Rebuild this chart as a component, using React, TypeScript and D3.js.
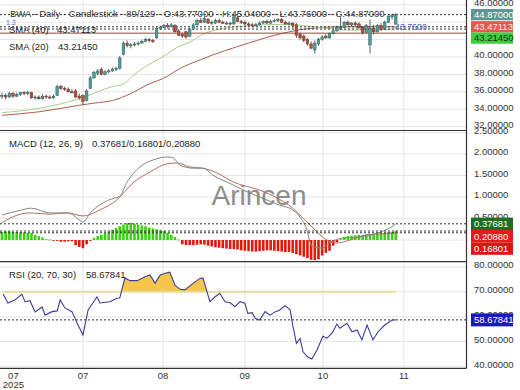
import React from "react";
import * as d3 from "d3";

// ---------- DATA ----------
const opens = [35.5,35.6,35.4,35.8,35.5,35.7,35.9,35.8,35.9,35.3,35.4,35.2,35.5,35.4,35.3,35.6,36.6,36.4,36.3,36.0,36.1,35.5,35.6,35.0,36.4,37.6,38.1,38.6,38.0,38.3,38.4,38.6,38.7,40.3,41.6,41.3,41.4,41.5,41.6,41.8,42.0,41.9,42.2,43.3,43.4,43.6,43.5,43.6,43.0,42.6,42.9,42.4,43.2,43.7,44.2,44.0,44.3,43.9,43.9,44.2,44.0,43.9,43.9,43.8,44.5,44.1,44.0,43.8,43.7,43.6,43.7,43.9,44.1,43.9,44.1,44.2,44.3,44.0,43.8,43.9,43.7,42.6,42.4,42.0,41.5,40.8,41.5,42.0,42.4,42.2,42.7,43.0,43.3,43.4,44.0,43.7,43.9,43.8,43.4,42.8,41.4,43.3,42.9,43.6,43.2,44.0,44.6,43.77];
const highs = [35.9,35.8,36.0,36.0,35.9,36.0,36.1,36.1,36.0,35.6,35.6,35.7,35.7,35.6,35.7,36.8,36.8,36.6,36.5,36.3,36.3,35.8,35.7,36.3,37.8,38.4,38.6,38.8,38.5,38.6,38.8,38.9,40.1,41.8,41.9,41.6,41.7,41.8,42.0,42.2,42.2,42.1,43.4,43.6,43.8,43.9,43.9,43.8,43.2,42.8,43.0,43.4,43.9,44.4,44.5,44.6,44.5,44.2,44.4,44.4,44.2,44.1,44.0,44.9,44.7,44.3,44.2,44.0,43.9,43.9,44.1,44.2,44.3,44.3,44.4,44.5,44.5,44.2,44.1,44.0,43.9,42.8,42.6,42.2,41.8,41.9,42.2,42.5,42.6,42.8,43.2,43.6,44.6,44.1,44.2,44.0,44.1,44.0,43.6,43.8,44.3,43.7,43.8,43.9,44.2,44.9,45.0,45.04];
const lows = [35.2,35.1,35.3,35.3,35.4,35.5,35.6,35.6,35.2,35.1,35.1,35.1,35.2,35.2,35.2,35.5,36.2,36.1,35.9,35.8,35.3,35.1,34.5,34.9,36.3,37.5,37.9,37.9,37.9,38.1,38.3,38.4,38.6,40.2,41.1,41.0,41.2,41.3,41.5,41.7,41.7,41.6,42.1,43.1,43.3,43.3,43.4,42.8,42.4,42.2,42.1,42.3,43.1,43.6,43.9,43.9,43.8,43.7,43.8,43.9,43.8,43.7,43.6,43.7,44.0,43.8,43.6,43.5,43.4,43.5,43.6,43.8,43.8,43.8,44.0,44.0,43.9,43.7,43.6,43.4,42.2,42.0,41.7,41.3,41.0,40.4,41.3,41.9,42.1,42.1,42.6,42.9,43.1,43.3,43.6,43.5,43.5,43.2,42.6,42.7,40.4,42.6,42.8,43.0,43.1,43.9,44.3,43.76];
const closes = [35.6,35.4,35.8,35.5,35.7,35.9,35.8,35.9,35.3,35.4,35.2,35.5,35.4,35.3,35.5,36.6,36.4,36.3,36.0,35.9,35.4,35.3,34.9,36.1,37.6,38.2,38.4,38.0,38.3,38.4,38.6,38.7,39.9,41.6,41.3,41.4,41.5,41.6,41.8,42.0,41.9,41.8,43.3,43.4,43.6,43.5,43.7,42.9,42.5,42.4,42.3,43.2,43.7,44.2,44.0,44.4,43.9,44.0,44.2,44.0,43.9,43.9,43.8,44.6,44.1,44.0,43.8,43.7,43.6,43.7,43.9,44.1,43.9,44.1,44.2,44.3,44.0,43.8,43.9,43.6,42.5,42.2,41.9,41.5,41.0,41.6,42.0,42.3,42.2,42.7,43.0,43.4,43.4,44.0,43.7,43.9,43.7,43.4,42.8,43.6,43.3,42.9,43.6,43.2,44.0,44.7,44.8,44.87];

// SMA lines: [candle index, value]
const sma20Pts: [number, number][] = [[0,33.6],[10,34.1],[21,35.2],[30,36.6],[33,36.9],[36,38.0],[39,38.9],[44,40.1],[48,41.2],[51,41.7],[54,42.5],[58,43.1],[67,43.6],[76,43.75],[81,43.65],[86,43.4],[95,43.1],[100,43.1],[107,43.2145]];
const sma40Pts: [number, number][] = [[0,33.3],[10,33.7],[21,34.45],[25,34.7],[30,35.0],[35,35.8],[39,36.7],[45,37.8],[48,38.6],[54,39.7],[67,41.6],[76,42.7],[84,43.3],[92,43.47],[107,43.47113]];

// MACD
const macdPts: [number, number][] = [[0,0.58],[5,0.69],[8,0.74],[13,0.63],[18,0.63],[21,0.47],[22,0.42],[24,0.63],[29,0.93],[32,1.02],[34,1.35],[37.5,1.70],[41,1.86],[45,1.93],[46.5,1.91],[48.4,1.74],[52,1.67],[54.6,1.67],[57.3,1.51],[62.8,1.28],[66.6,1.12],[70,1.0],[75.5,0.81],[79,0.70],[81,0.53],[83,0.19],[83.7,-0.05],[84.5,-0.16],[87,-0.19],[89,-0.07],[92.7,0.05],[97.3,0.07],[102,0.16],[106.3,0.33],[107,0.37681]];
const signalPts: [number, number][] = [[0,0.40],[2.2,0.51],[7.6,0.63],[13,0.60],[17.7,0.63],[22,0.56],[26.6,0.70],[31.2,0.93],[35.6,1.33],[40.2,1.58],[44.8,1.77],[47.6,1.79],[51,1.70],[54.6,1.67],[58.4,1.56],[62.8,1.35],[70,1.16],[74.7,0.98],[79,0.74],[81.8,0.51],[84.5,0.28],[88.3,0.0],[91,-0.07],[94.6,0.0],[99.2,0.12],[106.3,0.16],[107,0.16801]];
const histVals = [0.19,0.20,0.20,0.19,0.19,0.18,0.18,0.17,0.16,0.12,0.09,0.06,0.02,0.01,-0.01,-0.02,-0.04,-0.04,-0.03,-0.03,-0.12,-0.16,-0.19,-0.10,-0.02,0.05,0.09,0.12,0.16,0.20,0.24,0.28,0.32,0.36,0.39,0.40,0.38,0.36,0.34,0.32,0.29,0.27,0.25,0.23,0.21,0.17,0.12,0.07,0.01,-0.10,-0.12,-0.12,-0.12,-0.11,-0.10,-0.11,-0.13,-0.15,-0.17,-0.18,-0.19,-0.20,-0.21,-0.21,-0.22,-0.24,-0.25,-0.26,-0.27,-0.27,-0.26,-0.25,-0.24,-0.24,-0.25,-0.26,-0.27,-0.28,-0.28,-0.30,-0.33,-0.36,-0.39,-0.42,-0.46,-0.47,-0.45,-0.36,-0.30,-0.25,-0.13,-0.05,0.02,0.07,0.09,0.10,0.11,0.12,0.12,0.13,0.14,0.14,0.15,0.16,0.17,0.18,0.19,0.2088];

// RSI
const rsiPts: [number, number][] = [[0.3,69.1],[1.6,65.5],[3.5,66.7],[5.4,69.0],[6.25,66.0],[7.6,66.4],[9,61.9],[10.9,63.9],[11.7,60.6],[13.6,62.0],[15,62.3],[15.8,66.7],[17.1,63.5],[19,62.0],[20.4,57.4],[22,52.6],[23.4,62.7],[24.7,65.5],[25.8,68.0],[26.6,65.5],[29.3,66.0],[31.25,67.4],[32,67.5],[33.4,75.6],[34.8,74.5],[36.7,74.5],[38.9,76.1],[40.2,76.8],[41.6,73.5],[43,76.8],[44.3,77.5],[45.6,77.9],[47,72.7],[48.4,71.0],[49.7,70.8],[51.9,73.4],[53.8,75.4],[54.6,75.6],[56.5,66.0],[57.9,68.0],[59.2,69.4],[60.6,66.0],[62,65.6],[63.3,64.0],[64.7,66.0],[66,65.4],[66.8,61.3],[68,61.6],[68.8,59.3],[70,58.6],[71.5,62.0],[72.8,60.6],[74.2,61.9],[75.5,62.7],[76.9,64.4],[78.3,62.7],[79,56.6],[80,49.2],[81,51.2],[81.8,45.8],[83,43.8],[84.2,42.9],[85.6,46.5],[87.2,52.1],[88.3,51.3],[89.7,53.3],[91,57.0],[91.8,55.3],[93.75,57.3],[95.1,53.9],[96.5,54.6],[97.8,50.6],[99.2,56.6],[100.8,50.6],[102.2,53.9],[104,56.6],[106,58.6],[107,58.67841]];
const rsiUpper = 70;

// levels / labels
const priceTicks = [46, 44, 42, 40, 38, 36, 34, 32];
const priceLabelTicks = [46, 40, 38, 36, 34, 32];
const macdTicks = [2.5, 2, 1.5, 1, 0.5, 0];
const macdLabelTicks = [2.5, 2, 1.5, 1, 0.5];
const rsiTicks = [80, 70, 60, 50, 40];
const monthTickIdx = [22, 43.75, 66, 87.2, 109.2];
const monthLabels = ["07", "08", "09", "10", "11"];
const firstTickIdx = 3.1;
const firstLabel = "07";
const yearLabel = "2025";
const lastClose = 44.87;
const sma40Last = 43.47113;
const sma20Last = 43.2145;
const refLevel = 42.74;
const lowMark = 43.76;
const macdLast = 0.37681, signalLast = 0.16801, histLast = 0.2088;
const rsiLast = 58.67841;
const header = "BWA - Daily - Candlestick - 89/129 - O:43.77000 - H:45.04000 - L:43.76000 - C:44.87000";

const FONT = "'Liberation Sans', Arial, Helvetica, sans-serif";

function stackBoxes(centers: number[], h: number) {
  const out: number[] = [];
  centers.forEach((c, k) => {
    let v = c;
    if (k > 0 && v - h / 2 < out[k - 1] + h / 2) v = out[k - 1] + h;
    out.push(v);
  });
  return out;
}

export default function App() {
  const R = 466.5;
  const P1: [number, number] = [0, 130.5];
  const P2: [number, number] = [130.5, 261.7];
  const P3: [number, number] = [261.7, 368.3];

  const x = d3.scaleLinear().domain([0, 107]).range([2, 395.76]);
  const yP = d3.scaleLinear().domain([32, 46]).range([126.6, 4.8]);
  const yM = d3.scaleLinear().domain([0, 2.5]).range([240, 132.5]);
  const yR = d3.scaleLinear().domain([40, 80]).range([366.2, 267]);

  const smoothP = d3.line<[number, number]>().x(d => x(d[0])).y(d => yP(d[1])).curve(d3.curveMonotoneX);
  const smoothM = d3.line<[number, number]>().x(d => x(d[0])).y(d => yM(d[1])).curve(d3.curveMonotoneX);
  const lineR = d3.line<[number, number]>().x(d => x(d[0])).y(d => yR(d[1]));
  const areaR = d3.area<[number, number]>().x(d => x(d[0])).y0(yR(rsiUpper)).y1(d => yR(d[1]));

  const grid = "#e6e6e6";
  const labelX = 474;
  const bw = 2.6;

  const priceBoxY = stackBoxes([yP(lastClose), yP(sma40Last), yP(sma20Last)], 11.3);
  const priceBoxes = [
    { v: lastClose, bg: "#5f9593", fg: "#ffffff" },
    { v: sma40Last, bg: "#e4584e", fg: "#ffe8e8" },
    { v: sma20Last, bg: "#3dcf3d", fg: "#143014" },
  ];
  const macdBoxY = stackBoxes([yM(macdLast), yM(histLast), yM(signalLast)], 12.4);
  const macdBoxes = [
    { v: macdLast, bg: "#1f6e1f", fg: "#ffffff" },
    { v: histLast, bg: "#ea1a1a", fg: "#ffffff" },
    { v: signalLast, bg: "#dd1414", fg: "#ffffff" },
  ];

  const dotted = { stroke: "#333", strokeWidth: 1, strokeDasharray: "2,2" };

  return (
    <svg width={520} height={390} style={{ position: "absolute", left: 0, top: 0, display: "block" }} fontFamily={FONT}>
      <defs>
        <clipPath id="cMain"><rect x={0} y={P1[0]} width={R} height={P1[1] - P1[0]} /></clipPath>
        <clipPath id="cMacd"><rect x={0} y={P2[0]} width={R} height={P2[1] - P2[0]} /></clipPath>
        <clipPath id="cRsi"><rect x={0} y={P3[0]} width={R} height={P3[1] - P3[0]} /></clipPath>
        <clipPath id="cRsiUp"><rect x={0} y={P3[0]} width={R} height={yR(rsiUpper) - P3[0]} /></clipPath>
      </defs>
      <rect x={0} y={0} width={520} height={390} fill="#ffffff" />

      {/* horizontal grids */}
      <g clipPath="url(#cMain)">
        {priceTicks.map(t => <line key={t} x1={0} x2={R} y1={yP(t)} y2={yP(t)} stroke={grid} />)}
      </g>
      <g clipPath="url(#cMacd)">
        {macdTicks.map(t => <line key={t} x1={0} x2={R} y1={yM(t)} y2={yM(t)} stroke={grid} />)}
      </g>
      <g clipPath="url(#cRsi)">
        {rsiTicks.map(t => <line key={t} x1={0} x2={R} y1={yR(t)} y2={yR(t)} stroke={grid} />)}
      </g>
      {/* vertical grids */}
      {monthTickIdx.map(m => <line key={m} x1={x(m)} x2={x(m)} y1={0} y2={P3[1]} stroke={grid} />)}

      {/* watermark */}
      <text x={259} y={205} fontSize={28} fill="#7a7a7a" textAnchor="middle" opacity={0.85}>Arincen</text>

      {/* ---------- MAIN PANEL ---------- */}
      <g clipPath="url(#cMain)">
        <path d={smoothP(sma40Pts) || ""} fill="none" stroke="#a8604c" strokeWidth={1} />
        <path d={smoothP(sma20Pts) || ""} fill="none" stroke="#a3cf82" strokeWidth={1} />
        <line x1={0} x2={R} y1={yP(refLevel)} y2={yP(refLevel)} stroke="#9a4a3a" strokeWidth={1} />
        <line x1={0} x2={R} y1={yP(lastClose)} y2={yP(lastClose)} {...dotted} />
        <line x1={0} x2={R} y1={yP(sma40Last)} y2={yP(sma40Last)} {...dotted} />
        <line x1={0} x2={R} y1={yP(sma20Last)} y2={yP(sma20Last)} {...dotted} />
        {closes.map((c, i) => {
          const o = opens[i];
          const up = c >= o;
          const top = yP(Math.max(o, c));
          const bot = yP(Math.min(o, c));
          return (
            <g key={i}>
              <line x1={x(i)} x2={x(i)} y1={yP(highs[i])} y2={yP(lows[i])} stroke="#3a3a3a" strokeWidth={0.8} />
              <rect x={x(i) - bw / 2} y={top} width={bw} height={Math.max(1, bot - top)}
                fill={up ? "#4f9f99" : "#b5503d"} stroke={up ? "#2f5d5a" : "#6a3024"} strokeWidth={0.5} />
            </g>
          );
        })}
      </g>
      <text x={10} y={16.5} fontSize={9.5} fill="#333">{header}</text>
      <text x={6} y={25} fontSize={7} fill="#5a6ad0">1.3</text>
      <text x={9} y={32.5} fontSize={9.5} fill="#222">SMA (40)</text>
      <text x={57} y={32.5} fontSize={9.5} fill="#222">{sma40Last.toFixed(5)}</text>
      <text x={9} y={50} fontSize={9.5} fill="#222">SMA (20)</text>
      <text x={58} y={50} fontSize={9.5} fill="#222">{sma20Last.toFixed(5)}</text>
      <text x={395} y={30} fontSize={8.8} fill="#5560c8">{lowMark.toFixed(4)}</text>

      {/* ---------- MACD PANEL ---------- */}
      <g clipPath="url(#cMacd)">
        {histVals.map((v, i) => (
          <rect key={i} x={x(i) - bw / 2} y={Math.min(yM(v), yM(0))} width={bw}
            height={Math.max(0.8, Math.abs(yM(v) - yM(0)))} fill={v >= 0 ? "#3bd016" : "#dd1a0c"} />
        ))}
        <path d={smoothM(signalPts) || ""} fill="none" stroke="#b56e5e" strokeWidth={1} />
        <path d={smoothM(macdPts) || ""} fill="none" stroke="#7f8a7c" strokeWidth={1} />
        <line x1={0} x2={R} y1={yM(macdLast)} y2={yM(macdLast)} {...dotted} />
        <line x1={0} x2={R} y1={yM(histLast)} y2={yM(histLast)} {...dotted} />
        <line x1={0} x2={R} y1={yM(signalLast)} y2={yM(signalLast)} {...dotted} />
      </g>
      <text x={9} y={146.5} fontSize={9.5} fill="#222">MACD (12, 26, 9)</text>
      <text x={92} y={146.5} fontSize={9.5} fill="#222">{`${macdLast.toFixed(5)}/${signalLast.toFixed(5)}/${histLast.toFixed(5)}`}</text>

      {/* ---------- RSI PANEL ---------- */}
      <g clipPath="url(#cRsi)">
        <path d={areaR(rsiPts) || ""} fill="#f4c64c" clipPath="url(#cRsiUp)" />
        <line x1={x(0)} x2={x(107)} y1={yR(rsiUpper)} y2={yR(rsiUpper)} stroke="#e9dc9c" strokeWidth={2} />
        <line x1={0} x2={R} y1={yR(rsiLast)} y2={yR(rsiLast)} {...dotted} />
        <path d={lineR(rsiPts) || ""} fill="none" stroke="#3d3d96" strokeWidth={1.1} />
      </g>
      <text x={9} y={278.3} fontSize={9.5} fill="#222">RSI (20, 70, 30)</text>
      <text x={86} y={278.3} fontSize={9.5} fill="#222">{rsiLast.toFixed(5)}</text>

      {/* ---------- borders ---------- */}
      <line x1={0} x2={R} y1={P1[1]} y2={P1[1]} stroke="#333" strokeWidth={1.2} />
      <line x1={0} x2={R} y1={P2[1]} y2={P2[1]} stroke="#333" strokeWidth={1.2} />
      <line x1={0} x2={R} y1={P3[1]} y2={P3[1]} stroke="#333" strokeWidth={1.2} />
      <line x1={R} x2={R} y1={0} y2={P3[1]} stroke="#333" strokeWidth={1.2} />

      {/* ---------- right axis labels ---------- */}
      {priceLabelTicks.map(t => (
        <text key={"p" + t} x={labelX} y={yP(t) - 2} dy="0.35em" fontSize={9.5} fill="#333">{t.toFixed(5)}</text>
      ))}
      {macdLabelTicks.map(t => (
        <text key={"m" + t} x={labelX} y={yM(t) - 2} dy="0.35em" fontSize={9.5} fill="#333">{t.toFixed(5)}</text>
      ))}
      {rsiTicks.map(t => (
        <text key={"r" + t} x={labelX} y={yR(t) - 2} dy="0.35em" fontSize={9.5} fill="#333">{t.toFixed(5)}</text>
      ))}
      {priceBoxes.map((b, k) => (
        <g key={"pb" + k}>
          <rect x={471} y={priceBoxY[k] - 5.65} width={42} height={11.3} fill={b.bg} />
          <text x={474} y={priceBoxY[k]} dy="0.35em" fontSize={9.5} fill={b.fg}>{b.v.toFixed(5)}</text>
        </g>
      ))}
      {macdBoxes.map((b, k) => (
        <g key={"mb" + k}>
          <rect x={471} y={macdBoxY[k] - 6.2} width={42} height={12.4} fill={b.bg} />
          <text x={474} y={macdBoxY[k]} dy="0.35em" fontSize={9.5} fill={b.fg}>{b.v.toFixed(5)}</text>
        </g>
      ))}
      <rect x={471} y={yR(rsiLast) - 6.5} width={42} height={13} fill="#1818c4" />
      <text x={474} y={yR(rsiLast)} dy="0.35em" fontSize={9.5} fill="#ffffff">{rsiLast.toFixed(5)}</text>

      {/* ---------- x axis ---------- */}
      <text x={x(firstTickIdx)} y={378.5} fontSize={9.5} fill="#333" textAnchor="middle">{firstLabel}</text>
      <text x={x(firstTickIdx)} y={387.5} fontSize={9.5} fill="#333" textAnchor="middle">{yearLabel}</text>
      {monthTickIdx.map((m, k) => (
        <text key={"x" + k} x={x(m)} y={378.5} fontSize={9.5} fill="#333" textAnchor="middle">{monthLabels[k]}</text>
      ))}
    </svg>
  );
}
